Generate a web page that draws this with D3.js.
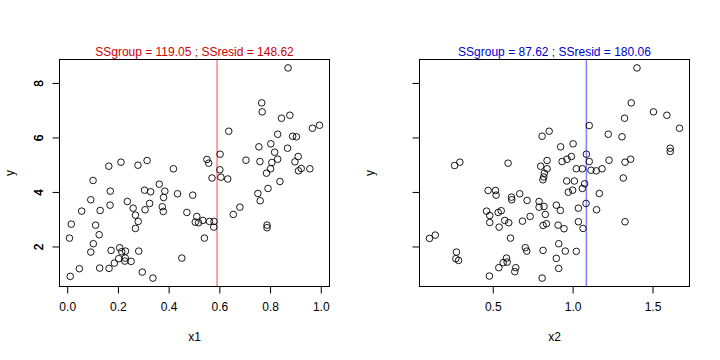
<!DOCTYPE html>
<html><head><meta charset="utf-8">
<script src="https://cdn.jsdelivr.net/npm/d3@7"></script>
<style>body{margin:0;background:#fff}svg{display:block}text{font-family:"Liberation Sans",Arial,Helvetica,sans-serif}</style>
</head><body><svg id="c" width="720" height="360"></svg>
<script>
const x1 = [0.164,0.212,0.279,0.315,0.419,0.102,0.871,0.767,0.769,0.845,
0.878,0.637,0.967,0.995,0.830,0.889,0.904,0.756,0.803,0.818,
0.869,0.603,0.551,0.558,0.705,0.760,0.830,0.807,0.911,0.898,
0.802,0.786,0.923,0.912,0.957,0.602,0.571,0.606,0.633,0.839,
0.495,0.752,0.792,0.761,0.472,0.511,0.505,0.518,0.535,0.561,
0.579,0.578,0.655,0.681,0.541,0.788,0.788,0.452,0.170,0.305,
0.329,0.363,0.385,0.380,0.435,0.093,0.169,0.237,0.260,0.325,
0.307,0.375,0.379,0.057,0.130,0.269,0.280,0.269,0.016,0.112,
0.126,0.009,0.103,0.093,0.173,0.207,0.215,0.230,0.282,0.203,
0.229,0.227,0.186,0.252,0.048,0.128,0.165,0.296,0.012,0.338];
const y1 = [4.945,5.092,4.982,5.154,4.850,4.421,8.552,7.269,6.939,6.705,
6.815,6.228,6.338,6.448,6.118,6.045,6.023,5.656,5.766,5.458,
5.605,5.385,5.191,5.055,5.165,5.117,5.202,5.081,5.301,5.106,
4.850,4.689,4.861,4.776,4.850,4.813,4.512,4.542,4.476,4.384,
3.882,3.944,4.128,3.677,3.248,3.101,2.892,2.870,2.955,2.918,
2.918,2.709,3.175,3.442,2.306,2.782,2.687,1.573,4.029,4.065,
4.007,4.285,4.029,3.798,3.933,3.713,3.515,3.651,3.405,3.578,
3.347,3.457,3.284,3.296,3.321,3.149,2.918,2.661,2.819,2.782,
2.430,2.306,2.100,1.793,1.855,1.954,1.807,1.829,1.829,1.551,
1.573,1.463,1.389,1.452,1.184,1.206,1.195,1.059,0.902,0.839];
const x2 = [0.261,0.294,0.596,0.809,0.853,0.840,0.800,0.840,0.823,0.819,
0.814,1.403,1.367,1.506,1.590,1.325,1.669,1.104,1.223,1.309,
1.611,1.611,0.925,1.003,0.992,0.965,0.934,1.086,1.104,1.228,
1.328,1.363,1.023,1.061,1.115,1.148,1.184,1.317,0.963,1.011,
1.075,1.061,1.000,0.973,1.167,1.084,1.036,1.150,0.898,0.923,
0.821,0.829,0.836,0.815,0.909,0.946,1.036,1.065,1.328,0.913,
0.954,1.023,0.815,0.898,0.913,0.809,0.104,0.140,0.273,0.269,
0.286,0.471,0.517,0.521,0.617,0.619,0.669,0.715,0.790,0.790,
0.461,0.481,0.534,0.553,0.481,0.575,0.600,0.686,0.734,0.540,
0.611,0.704,0.713,0.586,0.565,0.590,0.538,0.644,0.638,0.479];
const y2 = [4.971,5.092,5.055,6.045,6.228,5.154,4.945,4.850,4.689,4.549,
4.447,8.552,7.269,6.939,6.815,6.705,6.338,6.437,6.118,6.023,
5.605,5.484,5.656,5.766,5.301,5.202,5.117,5.385,5.117,5.165,
5.092,5.202,4.850,4.850,4.798,4.776,4.850,4.512,4.402,4.402,
4.300,4.128,4.065,3.992,3.944,3.578,3.405,3.347,3.515,3.321,
3.468,3.175,2.834,2.771,2.782,2.650,2.907,2.661,2.907,2.100,
1.829,1.818,1.855,1.562,1.195,0.839,2.295,2.416,1.793,1.551,
1.488,4.054,4.054,3.882,3.809,3.713,3.933,3.688,3.651,3.442,
3.296,3.138,3.248,3.310,2.881,2.955,2.870,2.929,3.101,2.709,
2.306,1.954,1.829,1.573,1.404,1.426,1.221,1.221,1.074,0.913];
const xTicks1 = [0, 0.2, 0.4, 0.6, 0.8, 1.0];
const xTickLabels1 = ["0.0","0.2","0.4","0.6","0.8","1.0"];
const xTicks2 = [0.5, 1.0, 1.5];
const xTickLabels2 = ["0.5","1.0","1.5"];
const yTicks = [2, 4, 6, 8];
const yTickLabels = ["2","4","6","8"];
const splits = [0.591, 1.086];
const titles = ["SSgroup = 119.05 ; SSresid = 148.62", "SSgroup = 87.62 ; SSresid = 180.06"];
const xLabels = ["x1", "x2"];

const svg = d3.select("#c");
const plotTop = 59.5, plotBottom = 286.5;

function pad(ext){ const r = ext[1]-ext[0]; return [ext[0]-0.04*r, ext[1]+0.04*r]; }

function panel(left, right, xs, ys, xt, xtl, split, title, tcol, lcol, xlab){
  const g = svg.append("g");
  const x = d3.scaleLinear().domain(pad(d3.extent(xs))).range([left, right]);
  const y = d3.scaleLinear().domain(pad(d3.extent(ys))).range([plotBottom, plotTop]);
  g.append("line").attr("x1", x(split)).attr("x2", x(split)).attr("y1", plotTop).attr("y2", plotBottom)
    .attr("stroke", lcol).attr("stroke-width", 1.5);
  g.selectAll("circle").data(xs.map((d,i)=>[d, ys[i]])).join("circle")
    .attr("cx", d=>x(d[0])).attr("cy", d=>y(d[1])).attr("r", 3.3)
    .attr("fill", "none").attr("stroke", "#000").attr("stroke-width", 0.9);
  g.append("rect").attr("x", left).attr("y", plotTop).attr("width", right-left).attr("height", plotBottom-plotTop)
    .attr("fill", "none").attr("stroke", "#000").attr("stroke-width", 1);
  const xa = g.append("g").attr("transform", `translate(0,${plotBottom})`)
    .call(d3.axisBottom(x).tickValues(xt).tickFormat((d,i)=>xtl[i]).tickSizeOuter(0).tickSize(7).tickPadding(9));
  xa.select(".domain").attr("d", `M${x(xt[0])},0H${x(xt[xt.length-1])}`);
  xa.selectAll("text").attr("font-size", 12).attr("font-family", '"Liberation Sans",Arial,sans-serif').attr("fill","#000");
  xa.selectAll("line").attr("stroke","#000");
  const ya = g.append("g").attr("transform", `translate(${left},0)`)
    .call(d3.axisLeft(y).tickValues(yTicks).tickFormat((d,i)=>yTickLabels[i]).tickSizeOuter(0).tickSize(7));
  ya.select(".domain").attr("d", `M0,${y(yTicks[0])}V${y(yTicks[yTicks.length-1])}`);
  ya.selectAll("line").attr("stroke","#000");
  ya.selectAll("text").remove();
  ya.selectAll(".tick").append("text")
    .attr("transform", `translate(${43-left},0) rotate(-90)`)
    .attr("text-anchor", "middle").attr("font-size", 12).attr("fill", "#000")
    .attr("font-family", '"Liberation Sans",Arial,sans-serif')
    .text((d,i)=>yTickLabels[i]);
  g.append("text").attr("x", (left+right)/2).attr("y", 56).attr("text-anchor","middle")
    .attr("font-size", 12).attr("fill", tcol).text(title);
  g.append("text").attr("x", (left+right)/2).attr("y", 341).attr("text-anchor","middle")
    .attr("font-size", 12).attr("fill", "#000").text(xlab);
  g.append("text").attr("transform", `translate(${left-46},${(plotTop+plotBottom)/2}) rotate(-90)`)
    .attr("text-anchor","middle").attr("font-size", 12).attr("fill", "#000").text("y");
}

panel(59.5, 329.5, x1, y1, xTicks1, xTickLabels1, splits[0], titles[0], "#CD0000", "#FF8080", xLabels[0]);
panel(419.5, 689.5, x2, y2, xTicks2, xTickLabels2, splits[1], titles[1], "#0000CD", "#8080FF", xLabels[1]);
</script></body></html>
